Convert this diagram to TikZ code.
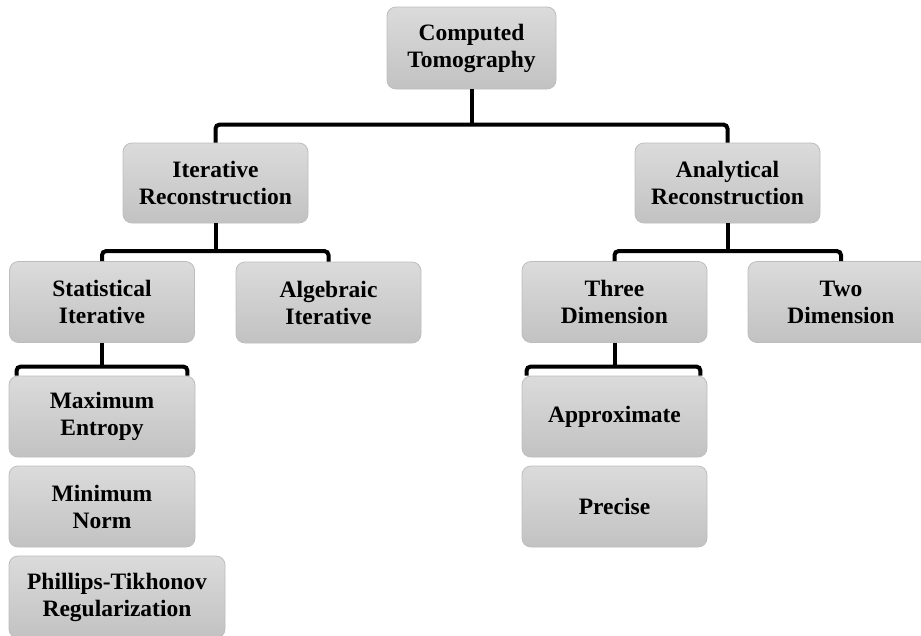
\documentclass[tikz,border=0pt]{standalone}
\usepackage{fontspec}
\setmainfont{Liberation Serif}
\begin{document}
\begin{tikzpicture}[x=1pt,y=-1pt,
  box/.style={rectangle, rounded corners=9pt, draw=boxborder, line width=0.8pt,
    top color=boxtop, bottom color=boxbot, align=center, inner sep=0pt,
    minimum width=185pt, minimum height=81pt,
    font=\fontsize{23.5}{27}\selectfont\bfseries},
  conn/.style={line width=4pt, black, rounded corners=4pt}]
\definecolor{boxtop}{HTML}{DBDBDB}
\definecolor{boxbot}{HTML}{C2C2C2}
\definecolor{boxborder}{HTML}{BDBDBD}
\useasboundingbox (0,0) rectangle (921,635);
\begin{scope}
\clip (0,0) rectangle (921,635);
% nodes
\node[box, minimum width=169pt, minimum height=82pt] (ct) at (471.5,48) {Computed\\Tomography};
\node[box, minimum height=80pt] (ir) at (215.5,183) {Iterative\\Reconstruction};
\node[box, minimum height=80pt] (ar) at (727.5,183) {Analytical\\Reconstruction};
\node[box] (si) at (102,302) {Statistical\\Iterative};
\node[box] (ai) at (328.5,302.5) {Algebraic\\Iterative};
\node[box] (td) at (614.5,302) {Three\\Dimension};
\node[box, minimum width=186pt] (tw) at (841,302) {Two\\Dimension};
\node[box, minimum width=186pt] (me) at (102,416.5) {Maximum\\Entropy};
\node[box, minimum width=186pt] (mn) at (102,506.5) {Minimum\\Norm};
\node[box, minimum width=216pt, minimum height=82pt] (pt) at (117,597) {Phillips-Tikhonov\\Regularization};
\node[box] (ap) at (614.5,416.5) {Approximate};
\node[box] (pr) at (614.5,506.5) {Precise};
% connectors
\draw[conn] (ct.south) -- ++(0,36);
\draw[conn] (ir.north) -- ++(0,-18) -| (ar.north);
\draw[conn] (ir.south) -- ++(0,28);
\draw[conn] (si.north) -- ++(0,-10) -| (ai.north);
\draw[conn] (ar.south) -- ++(0,28);
\draw[conn] (td.north) -- ++(0,-10) -| (tw.north);
\draw[conn] (si.south) -- ++(0,24);
\draw[conn] ([xshift=8pt]me.north west) -- ++(0,-9) -| ([xshift=-8pt]me.north east);
\draw[conn] (td.south) -- ++(0,24);
\draw[conn] ([xshift=5pt]ap.north west) -- ++(0,-9) -| ([xshift=-7pt]ap.north east);
\end{scope}
\end{tikzpicture}
\end{document}
